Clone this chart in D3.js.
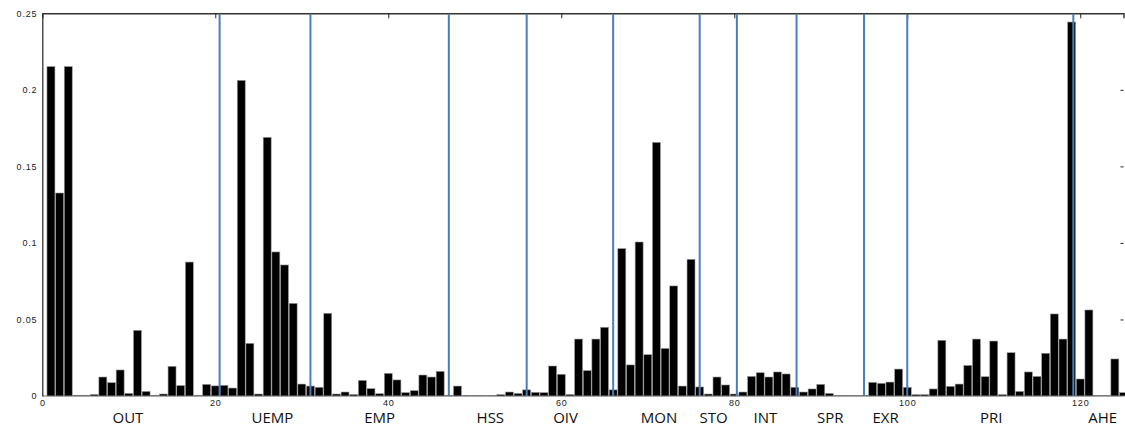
<!DOCTYPE html>
<html>
<head>
<meta charset="utf-8">
<script src="https://cdn.jsdelivr.net/npm/d3@7"></script>
<style>
  body { margin: 0; background: #fff; }
  svg { display: block; }
  .tick text { font-family: "Liberation Sans", Arial, sans-serif; font-size: 9px; letter-spacing: 0.8px; fill: #222; }
  .group-label { font-family: "Open Sans", "Noto Sans", sans-serif; font-size: 15px; fill: #111; }
</style>
</head>
<body>
<div id="chart"></div>
<script>
// bar values, one per variable index 1..125
const barValues = [
  0.2152, 0.1326, 0.2152, 0.0005, 0.0005, 0.0010, 0.0124, 0.0087, 0.0170, 0.0017,
  0.0429, 0.0030, 0.0005, 0.0013, 0.0194, 0.0068, 0.0875, 0.0005, 0.0076, 0.0066,
  0.0070, 0.0052, 0.2062, 0.0344, 0.0013, 0.1690, 0.0941, 0.0856, 0.0605, 0.0078,
  0.0065, 0.0057, 0.0540, 0.0013, 0.0026, 0.0010, 0.0102, 0.0048, 0.0015, 0.0148,
  0.0105, 0.0022, 0.0035, 0.0137, 0.0124, 0.0161, 0.0005, 0.0065, 0.0004, 0.0003,
  0.0003, 0.0003, 0.0009, 0.0026, 0.0017, 0.0040, 0.0024, 0.0022, 0.0196, 0.0142,
  0.0010, 0.0372, 0.0166, 0.0372, 0.0449, 0.0040, 0.0963, 0.0203, 0.1006, 0.0270,
  0.1657, 0.0311, 0.0719, 0.0065, 0.0893, 0.0059, 0.0013, 0.0124, 0.0072, 0.0013,
  0.0026, 0.0128, 0.0152, 0.0124, 0.0157, 0.0144, 0.0057, 0.0026, 0.0046, 0.0076,
  0.0017, 0.0004, 0.0004, 0.0004, 0.0004, 0.0089, 0.0083, 0.0091, 0.0176, 0.0057,
  0.0009, 0.0009, 0.0046, 0.0364, 0.0063, 0.0078, 0.0200, 0.0372, 0.0126, 0.0359,
  0.0009, 0.0283, 0.0030, 0.0157, 0.0128, 0.0279, 0.0536, 0.0372, 0.2443, 0.0111,
  0.0562, 0.0004, 0.0004, 0.0242, 0.0022
];

// group separators (x units) and group names with their centre position
const boundaries = [20.5, 31, 47, 56, 66, 76, 80.3, 87.2, 95, 100, 119.2];
const groupNames = ['OUT', 'UEMP', 'EMP', 'HSS', 'OIV', 'MON', 'STO', 'INT', 'SPR', 'EXR', 'PRI', 'AHE'];
const groupCenters = [9.9, 26.6, 39.0, 51.8, 60.5, 71.3, 77.6, 83.6, 91.1, 97.5, 109.7, 122.6];

const xTicks = [0, 20, 40, 60, 80, 100, 120];
const yTicks = [0, 0.05, 0.1, 0.15, 0.2, 0.25];

const W = 1125, H = 430;
const margin = {top: 13.3, right: 1.5, bottom: 34, left: 42.3};
const width = W - margin.left - margin.right;
const height = H - margin.top - margin.bottom;

const svg = d3.select('#chart').append('svg')
  .attr('width', W)
  .attr('height', H);

const g = svg.append('g')
  .attr('transform', `translate(${margin.left},${margin.top})`);

const x = d3.scaleLinear().domain([0, 125]).range([0, width]);
const y = d3.scaleLinear().domain([0, 0.25]).range([height, 0]);

const bw = x(0.92) - x(0);

// bars
g.selectAll('rect.bar')
  .data(barValues)
  .enter()
  .append('rect')
  .attr('class', 'bar')
  .attr('x', (d, i) => x(i + 1) - bw / 2)
  .attr('y', d => y(d))
  .attr('width', bw)
  .attr('height', d => height - y(d))
  .attr('fill', '#000')
  .attr('stroke', '#9a9a9a')
  .attr('stroke-width', 0.6);

// baseline
g.append('line')
  .attr('x1', 0).attr('x2', width)
  .attr('y1', height).attr('y2', height)
  .attr('stroke', '#555').attr('stroke-width', 0.8);

// left axis
g.append('g')
  .call(d3.axisLeft(y).tickValues(yTicks).tickSize(0).tickPadding(5)
    .tickFormat(d => d === 0 ? '0' : String(d)))
  .call(s => s.select('.domain').attr('stroke', '#222').attr('stroke-width', 1.2));

// right ticks (inward)
g.append('g')
  .attr('transform', `translate(${width},0)`)
  .call(d3.axisLeft(y).tickValues(yTicks.slice(1, 5)).tickSize(3).tickFormat(''))
  .call(s => s.select('.domain').remove())
  .selectAll('line').attr('stroke', '#222');

// top axis line with inward ticks
g.append('g')
  .call(d3.axisBottom(x).tickValues(xTicks.slice(1)).tickSize(5).tickFormat(''))
  .call(s => s.select('.domain').attr('stroke', '#333').attr('stroke-width', 1.4))
  .selectAll('line').attr('stroke', '#222');

// bottom tick labels
g.append('g')
  .attr('transform', `translate(0,${height})`)
  .call(d3.axisBottom(x).tickValues(xTicks).tickSize(0).tickPadding(4).tickFormat(d3.format('d')))
  .call(s => s.select('.domain').remove());

// group separators
g.selectAll('line.sep')
  .data(boundaries)
  .enter()
  .append('line')
  .attr('class', 'sep')
  .attr('x1', d => x(d)).attr('x2', d => x(d))
  .attr('y1', 1).attr('y2', height)
  .attr('stroke', '#4a7ebb')
  .attr('stroke-width', 2);

// group labels
g.selectAll('text.group-label')
  .data(groupNames)
  .enter()
  .append('text')
  .attr('class', 'group-label')
  .attr('x', (d, i) => x(groupCenters[i]))
  .attr('y', height + 27)
  .attr('text-anchor', 'middle')
  .text(d => d);
</script>
</body>
</html>
